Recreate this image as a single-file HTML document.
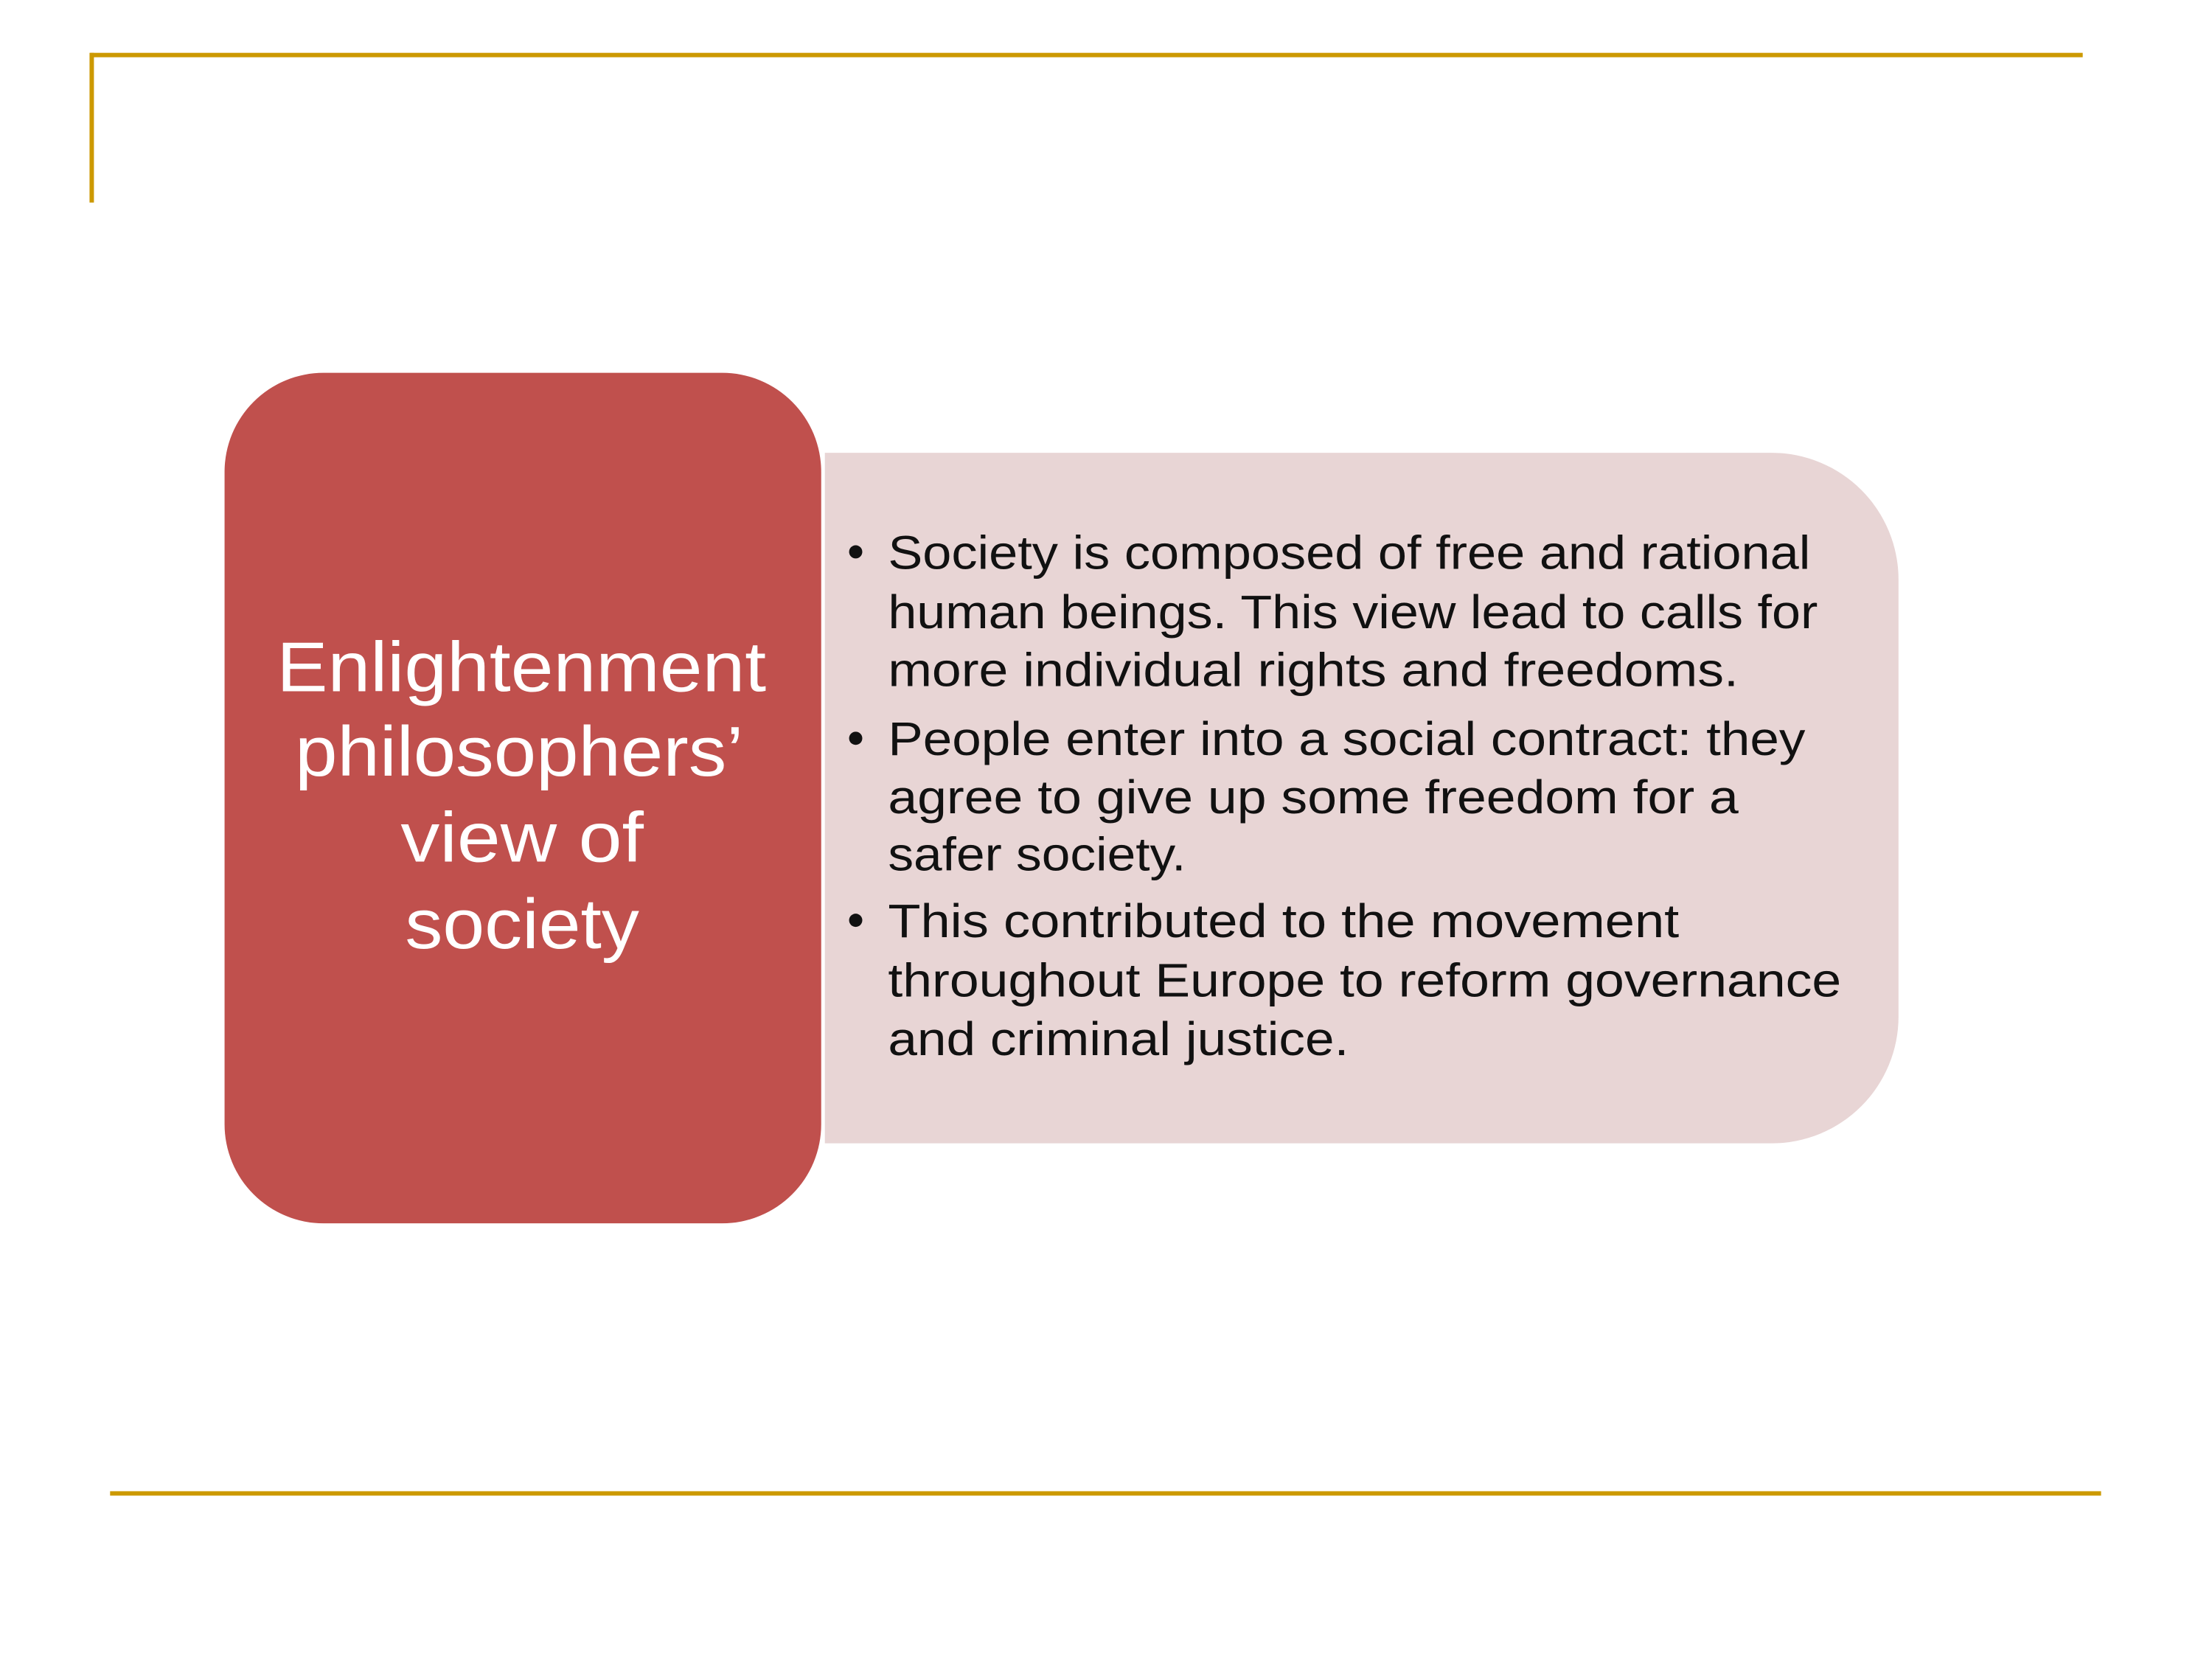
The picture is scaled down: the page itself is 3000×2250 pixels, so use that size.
<!DOCTYPE html>
<html><head><meta charset="utf-8"><style>
html,body{margin:0;padding:0;background:#fff;}
svg{display:block;}
text{font-family:"Liberation Sans Narrow","Liberation Sans",sans-serif;}
</style></head><body>
<svg width="3000" height="2250" viewBox="0 0 3000 2250">
<g transform="scale(0.9953)">
<rect x="123" y="72" width="2715" height="6" fill="#CC9900"/>
<rect x="122" y="72" width="6" height="204" fill="#CC9900"/>
<rect x="150" y="2032" width="2713" height="6" fill="#CC9900"/>
<path d="M1124 617 H2414 A173 173 0 0 1 2587 790 V1385 A173 173 0 0 1 2414 1558 H1124 Z" fill="#E8D5D5"/>
<rect x="306" y="508" width="813" height="1159" rx="135" ry="135" fill="#C0504D"/>
<g fill="#fff" font-size="96" text-anchor="start">
<text x="377" y="942" textLength="667" lengthAdjust="spacingAndGlyphs">Enlightenment</text>
<text x="402" y="1057" textLength="611" lengthAdjust="spacingAndGlyphs">philosophers’</text>
<text x="546" y="1174" textLength="331" lengthAdjust="spacingAndGlyphs">view of</text>
<text x="552" y="1292" textLength="319" lengthAdjust="spacingAndGlyphs">society</text>
</g>
<g fill="#111" font-size="64">
<circle cx="1166" cy="752" r="9"/>
<circle cx="1166" cy="1006" r="9"/>
<circle cx="1166" cy="1254" r="9"/>
<text x="1210" y="775" textLength="1257" lengthAdjust="spacingAndGlyphs">Society is composed of free and rational</text>
<text x="1210" y="856" textLength="1267" lengthAdjust="spacingAndGlyphs">human beings. This view lead to calls for</text>
<text x="1210" y="935" textLength="1159" lengthAdjust="spacingAndGlyphs">more individual rights and freedoms.</text>
<text x="1210" y="1029" textLength="1250" lengthAdjust="spacingAndGlyphs">People enter into a social contract: they</text>
<text x="1210" y="1108" textLength="1159" lengthAdjust="spacingAndGlyphs">agree to give up some freedom  for a</text>
<text x="1210" y="1186" textLength="406" lengthAdjust="spacingAndGlyphs">safer society.</text>
<text x="1210" y="1277" textLength="1078" lengthAdjust="spacingAndGlyphs">This contributed to the movement</text>
<text x="1210" y="1358" textLength="1299" lengthAdjust="spacingAndGlyphs">throughout Europe to reform governance</text>
<text x="1210" y="1438" textLength="628" lengthAdjust="spacingAndGlyphs">and criminal justice.</text>
</g>
</g>
</svg>
</body></html>
